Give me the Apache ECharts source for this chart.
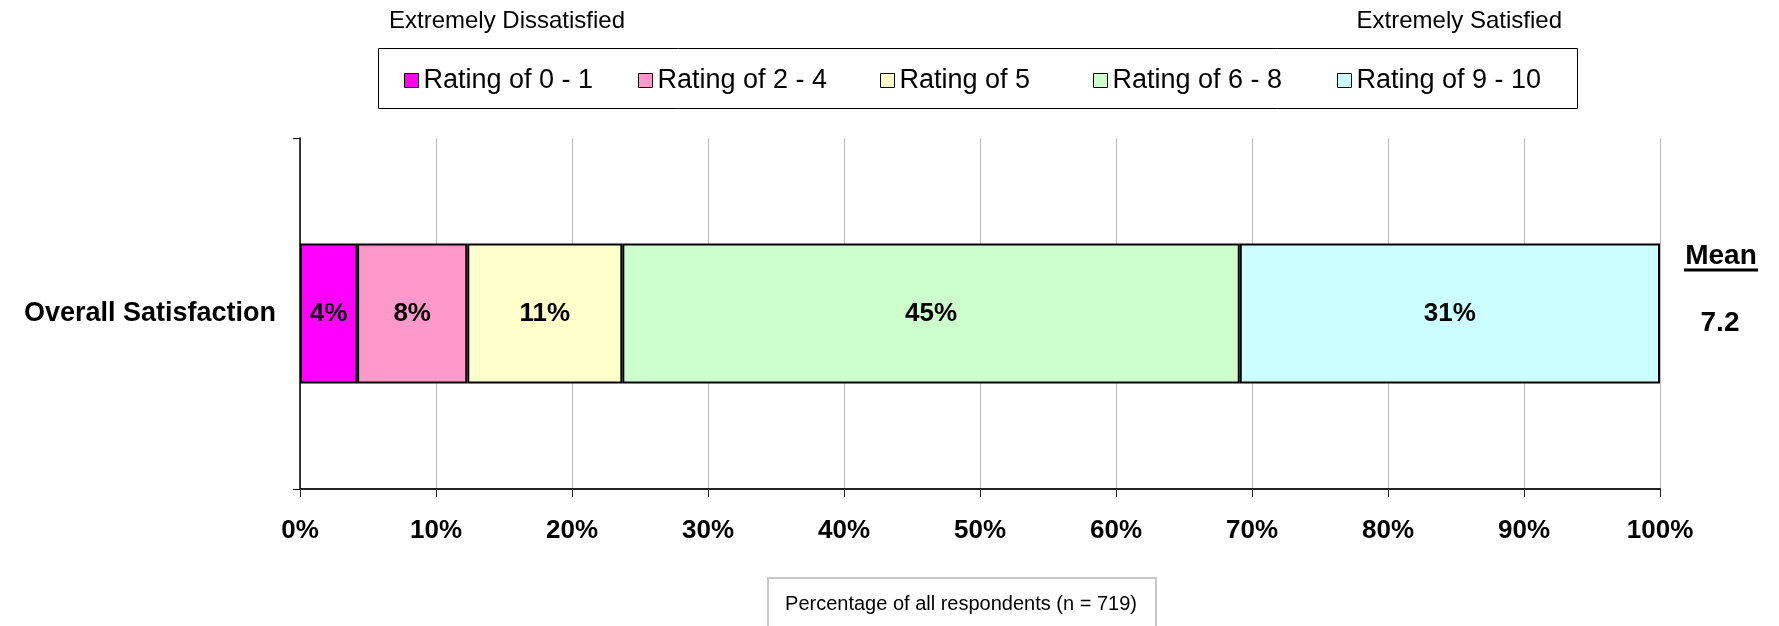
<!DOCTYPE html>
<html>
<head>
<meta charset="utf-8">
<title>Overall Satisfaction</title>
<script src="https://cdn.jsdelivr.net/npm/echarts@6/dist/echarts.min.js"></script>
<style>
  html, body { margin: 0; padding: 0; background: #fff; }
  #chart { width: 1779px; height: 626px; }
</style>
</head>
<body>
<div id="chart"></div>
<script>
// data
var categories = ['Overall Satisfaction'];
var ratingNames = ['Rating of 0 - 1', 'Rating of 2 - 4', 'Rating of 5', 'Rating of 6 - 8', 'Rating of 9 - 10'];
var ratingColors = ['#FF00FF', '#FF99CC', '#FFFFCC', '#CCFFCC', '#CCFFFF'];
var rating01 = [4.2];
var rating24 = [8.1];
var rating5 = [11.4];
var rating68 = [45.4];
var rating910 = [30.9];
var meanScore = 7.2;
var sampleSize = 719;

var FONT = '"Liberation Sans", Arial, sans-serif';
var ratingValues = [rating01, rating24, rating5, rating68, rating910];
// legend entries sit in fixed slots like the original
var legendLeft = [399, 633, 875, 1088, 1332];

var myChart = echarts.init(document.getElementById('chart'), null, {renderer: 'canvas'});

var series = ratingNames.map(function(name, i){
    return {
        name: name,
        type: 'bar',
        stack: 'total',
        barWidth: 140,
        data: ratingValues[i],
        itemStyle: {
            color: ratingColors[i],
            borderColor: '#000',
            borderWidth: 2
        },
        label: {
            show: true,
            position: 'inside',
            color: '#000',
            fontFamily: FONT,
            fontWeight: 'bold',
            fontSize: 26,
            formatter: function(p){ return Math.round(p.value) + '%'; }
        },
        emphasis: {disabled: true}
    };
});

var legends = ratingNames.map(function(name, i){
    return {
        data: [name],
        left: legendLeft[i],
        top: 62,
        itemWidth: 14,
        itemHeight: 14,
        icon: 'rect',
        itemStyle: {borderColor: '#000', borderWidth: 1},
        textStyle: {fontSize: 27, color: '#000', fontFamily: FONT}
    };
});

var option = {
    animation: false,
    backgroundColor: '#fff',
    textStyle: {fontFamily: FONT},
    legend: legends,
    grid: {
        left: 300,
        right: 119,
        top: 138,
        bottom: 137
    },
    xAxis: {
        type: 'value',
        min: 0,
        max: 100,
        interval: 10,
        axisLine: {show: true, lineStyle: {color: '#222', width: 2}},
        axisTick: {show: true, length: 8, lineStyle: {color: '#222'}},
        splitLine: {show: true, lineStyle: {color: '#bdbdbd', width: 1}},
        axisLabel: {
            formatter: '{value}%',
            color: '#000',
            fontWeight: 'bold',
            fontSize: 26,
            margin: 29,
            fontFamily: FONT
        }
    },
    yAxis: {
        type: 'category',
        data: categories,
        axisLine: {show: true, lineStyle: {color: '#000', width: 1.5}},
        axisTick: {show: true, length: 7, lineStyle: {color: '#000'}},
        axisLabel: {
            color: '#000',
            fontWeight: 'bold',
            fontSize: 27,
            margin: 24,
            fontFamily: FONT
        }
    },
    graphic: [
        {type: 'text', left: 389, top: 9,
         style: {text: 'Extremely Dissatisfied', fontSize: 24, fontFamily: FONT, fill: '#000'}},
        {type: 'text', right: 1779 - 1562, top: 9,
         style: {text: 'Extremely Satisfied', fontSize: 24, fontFamily: FONT, fill: '#000'}},
        {type: 'rect', left: 378, top: 48, z: -1,
         shape: {width: 1199, height: 60},
         style: {fill: '#fff', stroke: '#000', lineWidth: 1}},
        {type: 'text', x: 1721, y: 256,
         style: {text: 'Mean', fontSize: 28, fontWeight: 'bold', fontFamily: FONT, fill: '#000',
                 align: 'center', verticalAlign: 'middle'}},
        {type: 'line', shape: {x1: 1684, y1: 270, x2: 1758, y2: 270},
         style: {stroke: '#000', lineWidth: 3}},
        {type: 'text', x: 1720, y: 323,
         style: {text: meanScore.toFixed(1), fontSize: 28, fontWeight: 'bold', fontFamily: FONT, fill: '#000',
                 align: 'center', verticalAlign: 'middle'}},
        {type: 'rect', left: 767, top: 577,
         shape: {width: 388, height: 60},
         style: {fill: '#fff', stroke: '#c8c8c8', lineWidth: 2}},
        {type: 'text', x: 961, y: 604,
         style: {text: 'Percentage of all respondents (n = ' + sampleSize + ')', fontSize: 20, fontFamily: FONT,
                 fill: '#000', align: 'center', verticalAlign: 'middle'}}
    ],
    series: series
};
myChart.setOption(option);
</script>
</body>
</html>
